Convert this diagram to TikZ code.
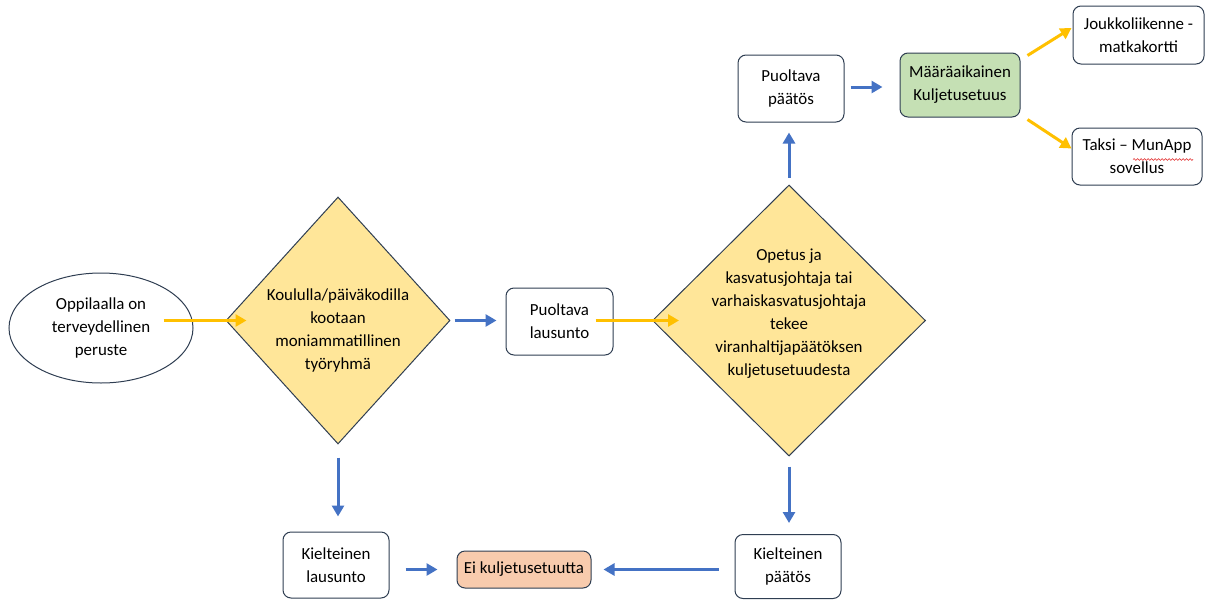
\documentclass[tikz,border=0pt]{standalone}
\usepackage{fontspec}
\setmainfont{Carlito}
\usepackage{xcolor}
\usetikzlibrary{shapes.geometric,arrows.meta,decorations.pathmorphing}

\definecolor{boxline}{HTML}{2F3E52}
\definecolor{decfill}{HTML}{FFE699}
\definecolor{okfill}{HTML}{C5E0B4}
\definecolor{nofill}{HTML}{F8CBAD}
\definecolor{arrowblue}{HTML}{4472C4}
\definecolor{arrowgold}{HTML}{FFC000}
\definecolor{spellred}{HTML}{E02020}

\begin{document}
\begin{tikzpicture}[x=1pt,y=1pt]
\tikzstyle{every node}+=[inner sep=0pt,font=\fontsize{16.9}{23}\selectfont,align=center]
\tikzstyle{box}=[draw=boxline,line width=1pt,rounded corners=8pt,fill=white]
\tikzstyle{decision}=[diamond,draw=boxline,line width=1pt,fill=decfill]
\tikzstyle{blue arrow}=[draw=arrowblue,line width=3pt,-{Triangle[length=11pt,width=12pt]}]
\tikzstyle{gold arrow}=[draw=arrowgold,line width=3pt,-{Triangle[length=11pt,width=12pt]}]
\useasboundingbox (0,0) rectangle (1205,-600);
\node [ellipse,draw=boxline,line width=1pt,minimum width=184,minimum height=110] (ell) at (101,-328) {Oppilaalla on\\terveydellinen\\peruste};
\node [decision,minimum width=224,minimum height=247] (dec1) at (338,-320.5) {};
\node (dec1txt) at (338,-330) {Koululla/päiväkodilla\\kootaan\\moniammatillinen\\työryhmä};
\node [box,minimum width=107,minimum height=67] (lau) at (559.5,-321.5) {Puoltava\\lausunto};
\node [decision,minimum width=273,minimum height=271] (dec2) at (789,-320.5) {};
\node (dec2txt) at (789,-313.5) {Opetus ja\\kasvatusjohtaja tai\\varhaiskasvatusjohtaja\\tekee\\viranhaltijapäätöksen\\kuljetusetuudesta};
\node [box,minimum width=106,minimum height=67] (ppa) at (791,-88.5) {Puoltava\\päätös};
\node [box,fill=okfill,minimum width=120,minimum height=64] (mka) at (960,-85) {Määräaikainen\\Kuljetusetuus};
\node [box,minimum width=131,minimum height=58] (jouk) at (1138.5,-35) {Joukkoliikenne -\\matkakortti};
\node [box,minimum width=130,minimum height=57] (taksi) at (1137,-156.5) {Taksi – MunApp\\sovellus};
\node [box,minimum width=106,minimum height=66] (kla) at (336,-565) {Kielteinen\\lausunto};
\node [box,fill=nofill,minimum width=134,minimum height=37] (ei) at (524,-569.5) {Ei kuljetusetuutta};
\node [box,minimum width=106,minimum height=64] (kpa) at (788,-566.5) {Kielteinen\\päätös};
\draw [spellred,line width=0.6pt,decorate,decoration={snake,amplitude=0.9pt,segment length=3.5pt}] ([shift={(-4,-3)}]taksi.center) -- ([shift={(56,-3)}]taksi.center);
\draw [gold arrow] ([xshift=-30]ell.east |- dec1.west) -- ([xshift=21]dec1.west);
\draw [blue arrow] ([xshift=4]dec1.east) -- ([xshift=-9]lau.west |- dec1.east);
\draw [gold arrow] ([xshift=-18]lau.east |- dec2.west) -- ([xshift=27]dec2.west);
\draw [blue arrow] ([yshift=7]dec2.north) -- ([yshift=-10]dec2.north |- ppa.south);
\draw [blue arrow] ([xshift=6,yshift=1.5]ppa.east) -- ([xshift=-17,yshift=1.5]ppa.east -| mka.west);
\draw [gold arrow] ([shift={(7,-3)}]mka.north east) -- ([shift={(-1,7)}]jouk.west);
\draw [gold arrow] ([shift={(7,-2)}]mka.south east) -- ([shift={(0,8)}]taksi.west);
\draw [blue arrow] ([yshift=-13]dec1.south) -- ([yshift=15]dec1.south |- kla.north);
\draw [blue arrow] ([xshift=16]kla.east |- ei.west) -- ([xshift=-19]ei.west);
\draw [blue arrow] ([yshift=-10]dec2.south) -- ([yshift=11]dec2.south |- kpa.north);
\draw [blue arrow] ([xshift=-16]kpa.west |- ei.east) -- ([xshift=12]ei.east);
\end{tikzpicture}
\end{document}
